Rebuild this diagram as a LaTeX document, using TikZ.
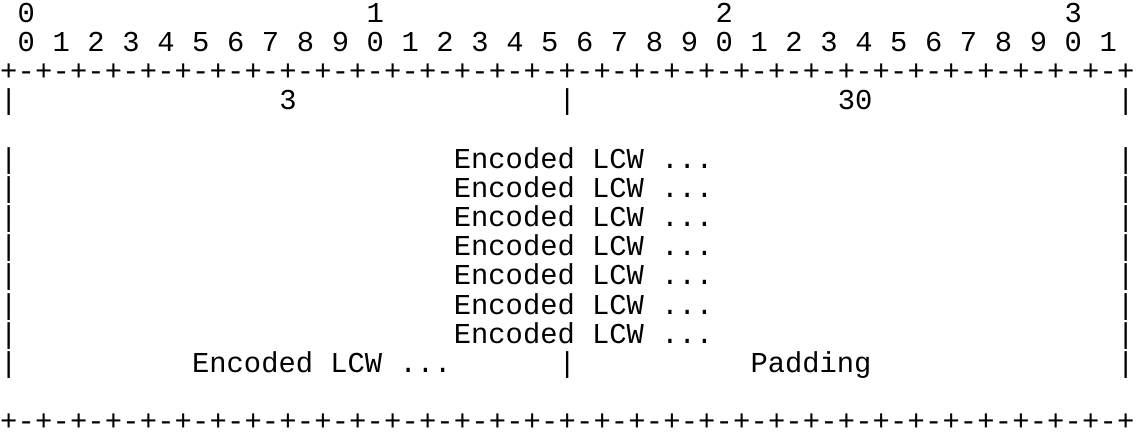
\documentclass[tikz,border=0pt]{standalone}
\usepackage{fontspec}
\setmonofont{Liberation Mono}
\usetikzlibrary{positioning}

% column / row of the character grid
\newcommand{\cw}{17.45}
\newcommand{\rowy}[1]{442-20-(#1-1)*29.2}

\begin{document}
\begin{tikzpicture}[x=1pt,y=1pt]
    \tikzset{chr/.style={inner sep=0pt,anchor=mid west,
             font=\fontsize{28.8}{30}\ttfamily}}
    \useasboundingbox (0,0) rectangle (1138,442);

    % bit numbers
    \foreach \t [count=\i from 0] in {0,1,2,3}
        \node[chr] (ten\i) at ({(1+20*\i)*\cw},{\rowy{1}}) {\t};
    \foreach \b in {0,...,31}{
        \pgfmathtruncatemacro{\d}{mod(\b,10)}
        \node[chr] (bit\b) at ({(1+2*\b)*\cw},{\rowy{2}}) {\d};
    }

    % top and bottom borders
    \foreach \r in {3,15}
        \foreach \c in {0,...,64}{
            \ifodd\c \node[chr] at ({\c*\cw},{\rowy{\r}}) {-};
            \else    \node[chr] at ({\c*\cw},{\rowy{\r}}) {+};
            \fi
        }

    % first word
    \node[chr] (l4a) at (0,{\rowy{4}})         {|};
    \node[chr] (len) at ({16*\cw},{\rowy{4}})  {3};
    \node[chr] (l4b) at ({32*\cw},{\rowy{4}})  {|};
    \node[chr] (typ) at ({48*\cw},{\rowy{4}})  {30};
    \node[chr] (l4c) at ({64*\cw},{\rowy{4}})  {|};

    % encoded words
    \foreach \r in {6,...,12}{
        \node[chr] at (0,{\rowy{\r}})            {|};
        \node[chr] at ({26*\cw},{\rowy{\r}})     {Encoded LCW ...};
        \node[chr] at ({64*\cw},{\rowy{\r}})     {|};
    }

    % last word
    \node[chr] (l13a) at (0,{\rowy{13}})         {|};
    \node[chr] (enc)  at ({11*\cw},{\rowy{13}})  {Encoded LCW ...};
    \node[chr] (l13b) at ({32*\cw},{\rowy{13}})  {|};
    \node[chr] (pad)  at ({43*\cw},{\rowy{13}})  {Padding};
    \node[chr] (l13c) at ({64*\cw},{\rowy{13}})  {|};
\end{tikzpicture}
\end{document}
